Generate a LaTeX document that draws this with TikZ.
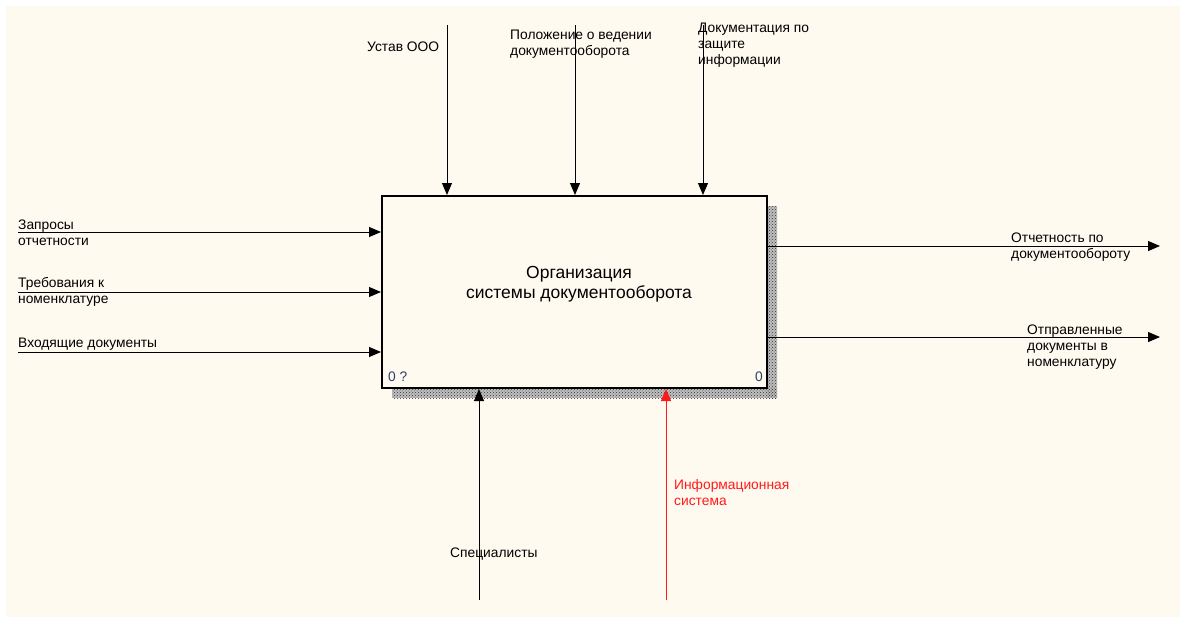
\documentclass[tikz,border=0pt]{standalone}
\usepackage{fontspec}
\setmainfont{Liberation Sans}
\usetikzlibrary{arrows.meta,patterns}
\definecolor{paper}{HTML}{FFFAF0}
\definecolor{numblue}{HTML}{2E3D66}
\definecolor{mechred}{HTML}{FF1A1A}
\begin{document}
\begin{tikzpicture}[x=1pt,y=-1pt,
  lbl/.style={font=\fontsize{13.8}{16}\selectfont, align=left, inner sep=0pt, anchor=west},
  flow/.style={line width=1pt, -{Triangle[length=12pt,width=10pt]}},
  activity/.style={draw, line width=2pt, fill=paper, minimum width=385pt, minimum height=192pt, inner sep=0pt}
]
% page and sheet
\fill[white] (0,0) rectangle (1186,619);
\useasboundingbox (0,0) rectangle (1186,619);
\fill[paper] (6,6) rectangle (1180,617);

% shadow of the activity box
\fill[gray!50] (767,206) rectangle (777,398);
\fill[gray!50] (392,388) rectangle (777,398);
\fill[pattern=crosshatch dots, pattern color=gray!40!black] (767,206) rectangle (777,398);
\fill[pattern=crosshatch dots, pattern color=gray!40!black] (392,388) rectangle (777,398);

% activity box
\node[activity] (box) at (574.5,292) {};
\node[font=\fontsize{17.5}{20}\selectfont, align=center] (title) at (579,284)
  {Организация\\системы документооборота};
\node[lbl, text=numblue] (num) at (388,377) {0 ?};
\node[lbl, text=numblue, anchor=east] (nr) at (763,377) {0};

% controls
\coordinate (c1) at (447,25);
\coordinate (c2) at (575,25);
\coordinate (c3) at (703,25);
\draw[flow] (c1) -- (c1 |- box.north);
\draw[flow] (c2) -- (c2 |- box.north);
\draw[flow] (c3) -- (c3 |- box.north);
\node[lbl] (lc1) at (367,47) {Устав ООО};
\node[lbl] (lc2) at (510,44) {Положение о ведении\\документооборота};
\node[lbl] (lc3) at (698,45) {Документация по\\защите\\информации};

% inputs
\coordinate (i1) at (18,232);
\coordinate (i2) at (18,292);
\coordinate (i3) at (18,352);
\draw[flow] (i1) -- (i1 -| box.west);
\draw[flow] (i2) -- (i2 -| box.west);
\draw[flow] (i3) -- (i3 -| box.west);
\node[lbl] (li1) at (18,233) {Запросы\\отчетности};
\node[lbl] (li2) at (18,292) {Требования к\\номенклатуре};
\node[lbl] (li3) at (18,344) {Входящие документы};

% outputs
\coordinate (o1) at (1160,246);
\coordinate (o2) at (1160,337);
\draw[flow] (o1 -| box.east) -- (o1);
\draw[flow] (o2 -| box.east) -- (o2);
\node[lbl] (lo1) at (1011,247) {Отчетность по\\документообороту};
\node[lbl] (lo2) at (1027,347) {Отправленные\\документы в\\номенклатуру};

% mechanisms
\coordinate (m1) at (479,600);
\coordinate (m2) at (666,600);
\draw[flow] (m1) -- (m1 |- box.south);
\draw[flow, draw=mechred, fill=mechred] (m2) -- (m2 |- box.south);
\node[lbl] (lm1) at (450,554) {Специалисты};
\node[lbl, text=mechred] (lm2) at (674,493) {Информационная\\система};
\end{tikzpicture}
\end{document}
